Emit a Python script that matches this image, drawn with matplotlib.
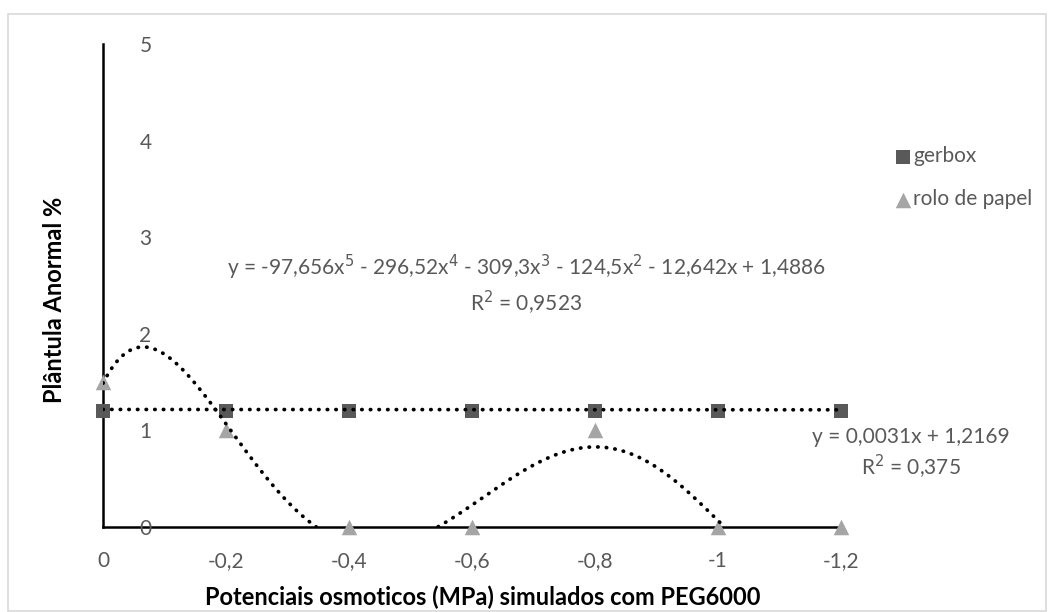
import numpy as np
import matplotlib
matplotlib.use("Agg")
import matplotlib.pyplot as plt
from matplotlib.patches import Rectangle

plt.rcParams['font.family'] = ['Lato', 'DejaVu Sans']

# data
potenciais = [0, -0.2, -0.4, -0.6, -0.8, -1.0, -1.2]
gerbox = [1.2, 1.2, 1.2, 1.2, 1.2, 1.2, 1.2]
rolo_papel = [1.5, 1.0, 0.0, 0.0, 1.0, 0.0, 0.0]
xtick_labels = ['0', '-0,2', '-0,4', '-0,6', '-0,8', '-1', '-1,2']
ytick_vals = [0, 1, 2, 3, 4, 5]

# trendline coefficients as printed in the chart
poly_coef = [-97.656, -296.52, -309.3, -124.5, -12.642, 1.4886]
lin_coef = [0.0031, 1.2169]
poly_label = ('y = -97,656x$^5$ - 296,52x$^4$ - 309,3x$^3$ - 124,5x$^2$'
              ' - 12,642x + 1,4886\nR$^2$ = 0,9523')
lin_label = 'y = 0,0031x + 1,2169\nR$^2$ = 0,375'

gray_txt = '#595959'
dark = '#595959'
light = '#a5a5a5'
W, H = 1054, 612

fig = plt.figure(figsize=(W / 100, H / 100), dpi=100)
fig.patches.append(Rectangle((8 / W, 1 / H), 1038 / W, 597 / H,
                             transform=fig.transFigure, fill=False,
                             edgecolor='#d9d9d9', lw=1.2))
ax = fig.add_axes([103 / W, 85 / H, 738 / W, 483 / H])

xs = np.linspace(0, -1.2, 600)
yp = np.polyval(poly_coef, xs)
yp[yp < 0] = np.nan
yl = np.polyval(lin_coef, xs)

dot = (0, (0.1, 2.2))
ax.plot(xs, yl, color='black', lw=2.7, ls=dot, dash_capstyle='round', zorder=3)
ax.plot(xs, yp, color='black', lw=2.7, ls=dot, dash_capstyle='round', zorder=3)

ax.scatter(potenciais, gerbox, marker='s', s=110, color=dark, zorder=2,
           clip_on=False, label='gerbox', linewidths=0)
ax.scatter(potenciais, rolo_papel, marker='^', s=125, color=light, zorder=2,
           clip_on=False, label='rolo de papel', linewidths=0)

ax.set_xlim(0, -1.2)
ax.set_ylim(0, 5)
ax.set_xticks(potenciais)
ax.set_xticklabels(xtick_labels)
ax.set_yticks(ytick_vals)
ax.set_yticklabels([str(v) for v in ytick_vals])
ax.tick_params(axis='both', length=0, labelsize=15, labelcolor=gray_txt)
ax.tick_params(axis='x', pad=17)
ax.tick_params(axis='y', pad=-35)
for lab in ax.get_yticklabels():
    lab.set_horizontalalignment('right')

for s in ['top', 'right']:
    ax.spines[s].set_visible(False)
ax.spines['left'].set_linewidth(1.8)
ax.spines['bottom'].set_linewidth(1.8)
ax.spines['left'].set_zorder(1)
ax.spines['bottom'].set_zorder(1)

fig.text(483 / W, 1 - 597 / H, 'Potenciais osmoticos (MPa) simulados com PEG6000',
         ha='center', va='center', fontsize=17, fontweight='bold', color='black')
fig.text(55 / W, 1 - 300 / H, 'Plântula Anormal %', rotation=90,
         ha='center', va='center', fontsize=17, fontweight='bold', color='black')

fig.text(526 / W, 1 - 285 / H, poly_label, ha='center', va='center',
         fontsize=15, color=gray_txt, linespacing=1.3, multialignment='center')
fig.text(911 / W, 1 - 454 / H, lin_label, ha='center', va='center',
         fontsize=15, color=gray_txt, linespacing=1.3, multialignment='center')

ax.legend(loc='upper left', bbox_to_anchor=(878 / W, 1 - 136 / H),
          bbox_transform=fig.transFigure, frameon=False, fontsize=15,
          labelcolor=gray_txt, handletextpad=-0.2, labelspacing=1.1,
          markerscale=1.0, handlelength=1.4, borderpad=0)

fig.savefig('out.png', dpi=100)
